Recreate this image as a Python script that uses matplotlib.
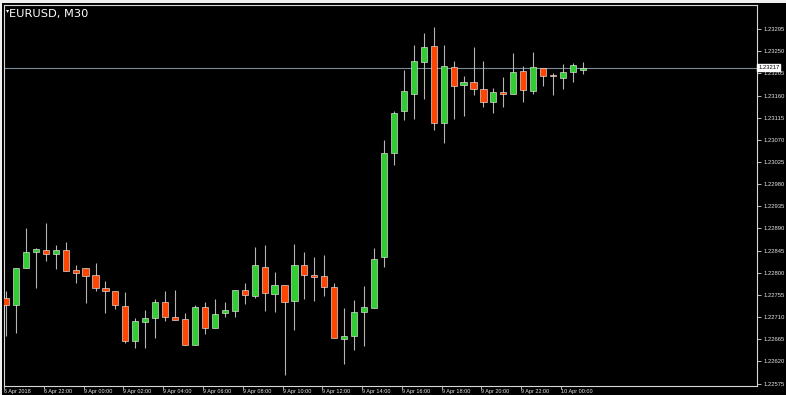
import matplotlib
matplotlib.use("Agg")
import matplotlib.pyplot as plt
from matplotlib.patches import Rectangle

# ---- data ----
symbol_title = "EURUSD, M30"
opens = [1.22749, 1.22734, 1.22810, 1.22842, 1.22847, 1.22838, 1.22846, 1.22805, 1.22809, 1.22795,
         1.22770, 1.22764, 1.22732, 1.22662, 1.22700, 1.22708, 1.22740, 1.22711, 1.22707, 1.22653,
         1.22730, 1.22687, 1.22718, 1.22723, 1.22765, 1.22752, 1.22812, 1.22756, 1.22776, 1.22742,
         1.22815, 1.22795, 1.22793, 1.22771, 1.22666, 1.22671, 1.22721, 1.22729, 1.22832, 1.23043,
         1.23128, 1.23163, 1.23229, 1.23260, 1.23105, 1.23219, 1.23182, 1.23187, 1.23174, 1.23147,
         1.23168, 1.23164, 1.23210, 1.23170, 1.23216, 1.23202, 1.23195, 1.23208, 1.23211]
highs = [1.22764, 1.22810, 1.22890, 1.22851, 1.22901, 1.22856, 1.22862, 1.22815, 1.22809, 1.22820,
         1.22783, 1.22764, 1.22761, 1.22709, 1.22725, 1.22746, 1.22762, 1.22766, 1.22718, 1.22734,
         1.22740, 1.22746, 1.22740, 1.22766, 1.22779, 1.22852, 1.22856, 1.22801, 1.22776, 1.22858,
         1.22842, 1.22833, 1.22837, 1.22780, 1.22729, 1.22744, 1.22774, 1.22851, 1.23069, 1.23129,
         1.23212, 1.23262, 1.23288, 1.23300, 1.23262, 1.23231, 1.23199, 1.23258, 1.23231, 1.23176,
         1.23198, 1.23247, 1.23220, 1.23248, 1.23216, 1.23205, 1.23224, 1.23227, 1.23229]
lows = [1.22671, 1.22677, 1.22809, 1.22770, 1.22823, 1.22807, 1.22803, 1.22780, 1.22738, 1.22764,
        1.22718, 1.22727, 1.22658, 1.22648, 1.22648, 1.22668, 1.22702, 1.22705, 1.22653, 1.22653,
        1.22676, 1.22687, 1.22711, 1.22711, 1.22737, 1.22749, 1.22723, 1.22721, 1.22593, 1.22683,
        1.22747, 1.22742, 1.22753, 1.22667, 1.22614, 1.22644, 1.22652, 1.22729, 1.22812, 1.23018,
        1.23110, 1.23113, 1.23154, 1.23091, 1.23064, 1.23113, 1.23119, 1.23162, 1.23136, 1.23124,
        1.23137, 1.23164, 1.23147, 1.23163, 1.23179, 1.23161, 1.23174, 1.23187, 1.23203]
closes = [1.22734, 1.22810, 1.22842, 1.22848, 1.22838, 1.22846, 1.22803, 1.22800, 1.22794, 1.22769,
          1.22764, 1.22734, 1.22662, 1.22702, 1.22708, 1.22740, 1.22711, 1.22705, 1.22653, 1.22730,
          1.22687, 1.22717, 1.22725, 1.22766, 1.22755, 1.22815, 1.22759, 1.22776, 1.22740, 1.22815,
          1.22796, 1.22791, 1.22771, 1.22667, 1.22672, 1.22721, 1.22730, 1.22829, 1.23044, 1.23124,
          1.23169, 1.23230, 1.23258, 1.23105, 1.23220, 1.23180, 1.23187, 1.23173, 1.23147, 1.23167,
          1.23163, 1.23208, 1.23171, 1.23218, 1.23199, 1.23200, 1.23208, 1.23222, 1.23217]
current_price = 1.23217
price_ticks = [1.22575, 1.22620, 1.22665, 1.22710, 1.22755, 1.22800, 1.22845, 1.22890, 1.22935,
               1.22980, 1.23025, 1.23070, 1.23115, 1.23160, 1.23205, 1.23250, 1.23295]
time_tick_index = [0, 4, 8, 12, 16, 20, 24, 28, 32, 36, 40, 44, 48, 52, 56]
time_tick_labels = ["6 Apr 2018", "6 Apr 22:00", "9 Apr 00:00", "9 Apr 02:00", "9 Apr 04:00",
                    "9 Apr 06:00", "9 Apr 08:00", "9 Apr 10:00", "9 Apr 12:00", "9 Apr 14:00",
                    "9 Apr 16:00", "9 Apr 18:00", "9 Apr 20:00", "9 Apr 22:00", "10 Apr 00:00"]

# ---- style ----
W, H = 786, 395
BULL = "#32cd32"
BEAR = "#ff4500"
WICK = "#b4b4b4"
FRAME = "#d8d8d8"
TXT = "#e6e6e6"

fig = plt.figure(figsize=(W / 100, H / 100), dpi=100, facecolor="black")
# light strips at top and left edge
fig.patches.append(Rectangle((0, 1 - 3 / H), 1, 3 / H, transform=fig.transFigure,
                             facecolor="#f0f0f0", edgecolor="none", zorder=-1))
fig.patches.append(Rectangle((0, 0), 2 / W, 1, transform=fig.transFigure,
                             facecolor="#f0f0f0", edgecolor="none", zorder=-1))

left, right, top, bottom = 4, 757, 5, 386
ax = fig.add_axes([left / W, (H - bottom) / H, (right - left) / W, (bottom - top) / H])
ax.set_facecolor("black")

n = len(opens)
xs = list(range(n))
for i in xs:
    o, h, l, c = opens[i], highs[i], lows[i], closes[i]
    col = BULL if c >= o else BEAR
    ax.vlines(i, l, h, color=WICK, linewidth=0.8, zorder=2)
    lo_b = min(o, c)
    hb = max(abs(c - o), 0.000008)
    ax.bar(i, hb, bottom=lo_b, width=0.62, color=col, edgecolor="#e8e8e8",
           linewidth=0.45, zorder=3)

ax.set_xlim(-0.13, 75.5)
ax.set_ylim(1.22570, 1.23344)

# current price line
ax.axhline(current_price, color="#7a8a96", linewidth=0.8, zorder=1)

# spines
for s in ax.spines.values():
    s.set_color(FRAME)
    s.set_linewidth(0.8)

# y axis on right
ax.yaxis.tick_right()
ax.set_yticks(price_ticks)
ax.set_yticklabels([f"{p:.5f}" for p in price_ticks])
ax.tick_params(axis="y", direction="out", length=3, width=0.6, color=FRAME,
               labelcolor=TXT, labelsize=4.2, pad=1.5)
for lab in ax.get_yticklabels():
    lab.set_family("Liberation Sans")

# x axis
ax.set_xticks([t - 0.2 for t in time_tick_index])
ax.set_xticklabels(time_tick_labels)
ax.tick_params(axis="x", direction="out", length=2, width=0.6, color=FRAME,
               labelcolor=TXT, labelsize=4.0, pad=0.2)
for lab in ax.get_xticklabels():
    lab.set_family("Liberation Sans")
    lab.set_horizontalalignment("left")

# current price label box
ax.text(1.0015, current_price, f"{current_price:.5f}", transform=ax.get_yaxis_transform(),
        ha="left", va="center", fontsize=4.2, family="Liberation Sans", color="black",
        bbox=dict(boxstyle="square,pad=0.15", facecolor="white", edgecolor="white"),
        zorder=10, clip_on=False)

# title
fig.text(6 / W, 1 - 11 / H, "\u25be", color="white", fontsize=4.5, va="center", ha="left")
fig.text(9 / W, 1 - 14 / H, symbol_title, color="white", fontsize=8.2, va="center",
         ha="left", family="DejaVu Sans")

fig.savefig("out.png", dpi=100, facecolor="black")
